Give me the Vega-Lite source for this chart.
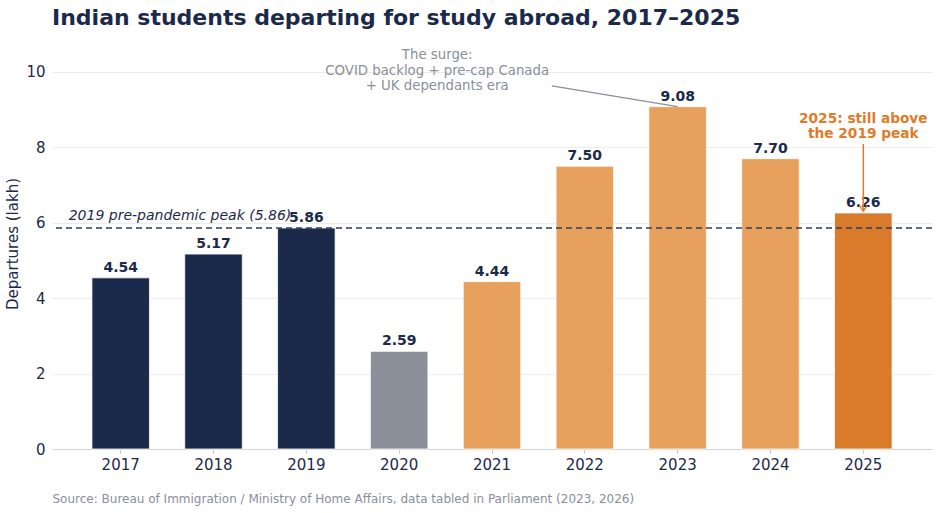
{
  "$schema": "https://vega.github.io/schema/vega-lite/v6.json",
  "width": 880,
  "height": 411,
  "autosize": {"type": "none"},
  "padding": {"left": 52, "top": 38, "right": 8, "bottom": 64},
  "background": "white",
  "config": {
    "font": "DejaVu Sans",
    "view": {"stroke": null}
  },
  "title": {
    "text": "Indian students departing for study abroad, 2017–2025",
    "anchor": "start",
    "frame": "group",
    "fontSize": 22,
    "fontWeight": "bold",
    "color": "#1b2a4a",
    "offset": 8
  },
  "datasets": {
    "departures": [
      {"year": "2017", "lakh": 4.54, "period": "Pre-pandemic"},
      {"year": "2018", "lakh": 5.17, "period": "Pre-pandemic"},
      {"year": "2019", "lakh": 5.86, "period": "Pre-pandemic"},
      {"year": "2020", "lakh": 2.59, "period": "Pandemic"},
      {"year": "2021", "lakh": 4.44, "period": "Surge"},
      {"year": "2022", "lakh": 7.50, "period": "Surge"},
      {"year": "2023", "lakh": 9.08, "period": "Surge"},
      {"year": "2024", "lakh": 7.70, "period": "Surge"},
      {"year": "2025", "lakh": 6.26, "period": "Latest"}
    ]
  },
  "encoding": {
    "x": {
      "field": "year",
      "type": "ordinal",
      "scale": {"paddingInner": 0.38, "paddingOuter": 0.43},
      "axis": {
        "title": "Source: Bureau of Immigration / Ministry of Home Affairs, data tabled in Parliament (2023, 2026)",
        "titleAnchor": "start",
        "titleAlign": "left",
        "titleFontSize": 12,
        "titleFontWeight": "normal",
        "titleColor": "#8a8f99",
        "titlePadding": 21,
        "labelAngle": 0,
        "labelFontSize": 15,
        "labelColor": "#1b2a4a",
        "labelPadding": 4,
        "domainColor": "#d4d4d4",
        "tickColor": "#c8c8c8",
        "tickSize": 4,
        "grid": false
      }
    }
  },
  "layer": [
    {
      "data": {"name": "departures"},
      "mark": {"type": "bar", "stroke": "white", "strokeWidth": 0.8},
      "encoding": {
        "y": {
          "field": "lakh",
          "type": "quantitative",
          "scale": {"domain": [0, 10.9], "nice": false},
          "axis": {
            "title": "Departures (lakh)",
            "titleFontSize": 15,
            "titleFontWeight": "normal",
            "titleColor": "#1b2a4a",
            "titlePadding": 5,
            "values": [0, 2, 4, 6, 8, 10],
            "labelFontSize": 15,
            "labelColor": "#1b2a4a",
            "labelPadding": 7,
            "domain": false,
            "ticks": false,
            "gridColor": "#ececec",
            "gridWidth": 1
          }
        },
        "color": {
          "field": "period",
          "type": "nominal",
          "scale": {
            "domain": ["Pre-pandemic", "Pandemic", "Surge", "Latest"],
            "range": ["#1b2a4a", "#8a8f99", "#e8a15c", "#d97b2b"]
          },
          "legend": null
        }
      }
    },
    {
      "data": {"name": "departures"},
      "mark": {"type": "text", "baseline": "bottom", "dy": -3, "fontSize": 14, "fontWeight": "bold", "color": "#1b2a4a"},
      "encoding": {
        "y": {"field": "lakh", "type": "quantitative"},
        "text": {"field": "lakh", "type": "quantitative", "format": ".2f"}
      }
    },
    {
      "data": {"values": [{"peak": 5.86}]},
      "mark": {"type": "rule", "color": "#2c3e5c", "strokeWidth": 1.5, "strokeDash": [6, 4]},
      "encoding": {
        "x": null,
        "y": {"field": "peak", "type": "quantitative"}
      }
    },
    {
      "data": {"values": [{"year": "2017", "peak": 5.86, "note": "2019 pre-pandemic peak (5.86)"}]},
      "mark": {"type": "text", "align": "left", "baseline": "bottom", "dx": -52, "dy": -5, "fontSize": 14, "fontStyle": "italic", "color": "#1b2a4a"},
      "encoding": {
        "y": {"field": "peak", "type": "quantitative"},
        "text": {"field": "note"}
      }
    },
    {
      "data": {"values": [{"year": "2022", "level": 9.63, "target": "2023", "top": 9.08}]},
      "mark": {"type": "rule", "color": "#8a8f99", "strokeWidth": 1.2, "xOffset": -33},
      "encoding": {
        "y": {"field": "level", "type": "quantitative"},
        "x2": {"field": "target"},
        "y2": {"field": "top"}
      }
    },
    {
      "data": {"values": [{"year": "2020", "level": 10.63, "note": "The surge:\nCOVID backlog + pre-cap Canada\n+ UK dependants era"}]},
      "mark": {"type": "text", "align": "center", "baseline": "top", "dx": 38, "lineBreak": "\n", "lineHeight": 15.5, "fontSize": 13.3, "color": "#8a8f99"},
      "encoding": {
        "y": {"field": "level", "type": "quantitative"},
        "text": {"field": "note"}
      }
    },
    {
      "data": {"values": [{"year": "2025", "level": 8.09, "top": 6.31}]},
      "mark": {"type": "rule", "color": "#e07b2a", "strokeWidth": 1.5},
      "encoding": {
        "y": {"field": "level", "type": "quantitative"},
        "y2": {"field": "top"}
      }
    },
    {
      "data": {"values": [{"year": "2025", "top": 6.31}]},
      "mark": {"type": "point", "shape": "M-1,-1.4L0,0L1,-1.4", "size": 60, "filled": false, "strokeWidth": 1.5, "color": "#e07b2a", "opacity": 1},
      "encoding": {
        "y": {"field": "top", "type": "quantitative"}
      }
    },
    {
      "data": {"values": [{"year": "2025", "level": 8.95, "note": "2025: still above\nthe 2019 peak"}]},
      "mark": {"type": "text", "align": "center", "baseline": "top", "lineBreak": "\n", "lineHeight": 15.5, "fontSize": 13.7, "fontWeight": "bold", "color": "#e07b2a"},
      "encoding": {
        "y": {"field": "level", "type": "quantitative"},
        "text": {"field": "note"}
      }
    }
  ]
}
